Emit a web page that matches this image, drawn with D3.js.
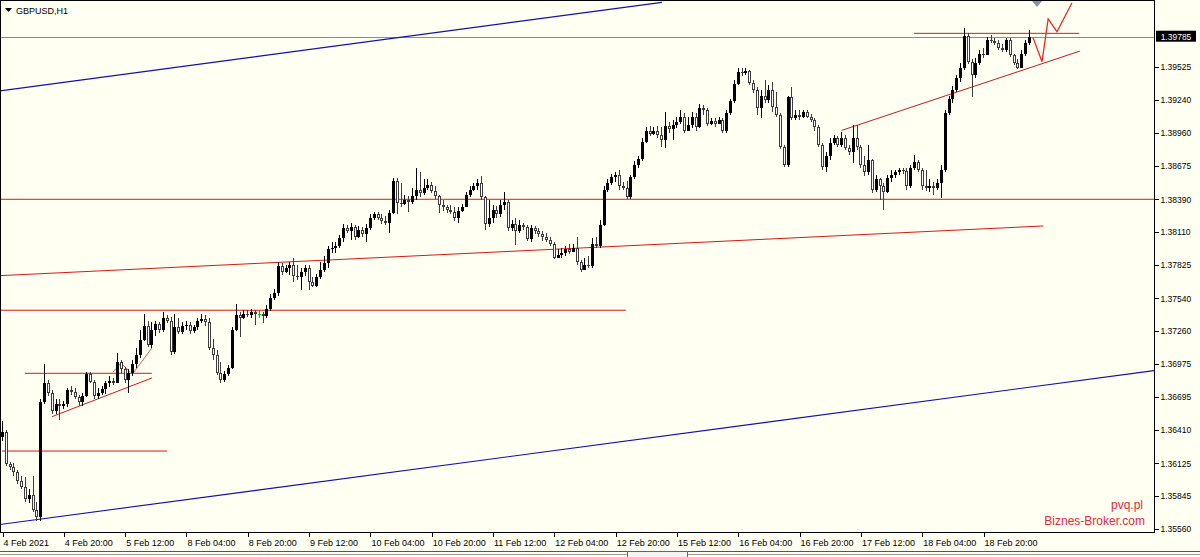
<!DOCTYPE html>
<html><head><meta charset="utf-8">
<script src="https://cdn.jsdelivr.net/npm/d3@7"></script>
<style>body{margin:0;background:#fffff2;} svg{display:block;}</style>
</head><body><svg id="c" width="1200" height="557"></svg>
<script>
const symbol = "GBPUSD,H1";
const opens = [
1.3635,1.3639,1.3612,1.3609,1.3605,1.3597,1.3592,1.3582,1.3585,1.3572,
1.3566,1.3665,1.3681,1.3673,1.3657,1.3663,1.3662,1.3663,1.3675,1.3674,
1.3669,1.3665,1.3670,1.3689,1.3682,1.3670,1.3673,1.3676,1.3681,1.3683,
1.3681,1.3699,1.3693,1.3684,1.3690,1.3698,1.3705,1.3718,1.3730,1.3714,
1.3727,1.3732,1.3727,1.3737,1.3735,1.3708,1.3729,1.3725,1.3730,1.3731,
1.3726,1.3729,1.3735,1.3736,1.3734,1.3711,1.3705,1.3690,1.3684,1.3689,
1.3694,1.3727,1.3740,1.3737,1.3741,1.3740,1.3742,1.3741,1.3741,1.3739,
1.3745,1.3754,1.3759,1.3782,1.3777,1.3780,1.3783,1.3773,1.3772,1.3777,
1.3780,1.3768,1.3765,1.3772,1.3778,1.3784,1.3796,1.3797,1.3799,1.3806,
1.3814,1.3812,1.3815,1.3807,1.3813,1.3809,1.3814,1.3823,1.3826,1.3823,
1.3820,1.3819,1.3827,1.3855,1.3836,1.3835,1.3838,1.3837,1.3842,1.3847,
1.3844,1.3849,1.3851,1.3846,1.3842,1.3834,1.3832,1.3830,1.3828,1.3823,
1.3829,1.3832,1.3843,1.3847,1.3850,1.3853,1.3841,1.3818,1.3823,1.3830,
1.3826,1.3834,1.3837,1.3814,1.3818,1.3812,1.3817,1.3815,1.3805,1.3814,
1.3812,1.3809,1.3807,1.3804,1.3801,1.3789,1.3791,1.3793,1.3796,1.3794,
1.3797,1.3785,1.3778,1.3783,1.3782,1.3801,1.3799,1.3817,1.3847,1.3853,
1.3858,1.3860,1.3850,1.3849,1.3841,1.3858,1.3868,1.3874,1.3888,1.3898,
1.3895,1.3898,1.3894,1.3890,1.3902,1.3899,1.3903,1.3905,1.3910,1.3898,
1.3903,1.3910,1.3901,1.3917,1.3916,1.3904,1.3906,1.3904,1.3907,1.3898,
1.3913,1.3923,1.3938,1.3948,1.3947,1.3949,1.3939,1.3933,1.3917,1.3928,
1.3924,1.3933,1.3918,1.3911,1.3884,1.3868,1.3927,1.3909,1.3911,1.3910,
1.3914,1.3910,1.3907,1.3901,1.3886,1.3867,1.3876,1.3887,1.3892,1.3886,
1.3892,1.3883,1.3880,1.3892,1.3884,1.3868,1.3862,1.3873,1.3847,1.3856,
1.3850,1.3845,1.3857,1.3860,1.3862,1.3864,1.3863,1.3850,1.3866,1.3871,
1.3864,1.3850,1.3849,1.3850,1.3849,1.3853,1.3864,1.3913,1.3925,1.3933,
1.3943,1.3952,1.3979,1.3957,1.3946,1.3956,1.3964,1.3963,1.3976,1.3975,
1.3973,1.3969,1.3967,1.3976,1.3963,1.3956,1.3952,1.3964,1.3973];
const highs = [
1.3649,1.3641,1.3614,1.3613,1.3607,1.3602,1.3601,1.3590,1.3602,1.3579,
1.3668,1.3698,1.3684,1.3675,1.3668,1.3668,1.3666,1.3677,1.3679,1.3677,
1.3671,1.3673,1.3691,1.3691,1.3684,1.3677,1.3679,1.3683,1.3687,1.3686,
1.3707,1.3701,1.3695,1.3693,1.3701,1.3711,1.3727,1.3741,1.3735,1.3734,
1.3735,1.3734,1.3742,1.3740,1.3738,1.3741,1.3737,1.3734,1.3735,1.3734,
1.3731,1.3737,1.3741,1.3740,1.3737,1.3719,1.3710,1.3699,1.3692,1.3697,
1.3729,1.3749,1.3742,1.3744,1.3744,1.3745,1.3744,1.3743,1.3742,1.3748,
1.3758,1.3762,1.3785,1.3784,1.3783,1.3785,1.3789,1.3783,1.3780,1.3783,
1.3783,1.3772,1.3775,1.3785,1.3790,1.3799,1.3802,1.3802,1.3808,1.3818,
1.3817,1.3819,1.3817,1.3816,1.3815,1.3818,1.3826,1.3828,1.3828,1.3826,
1.3825,1.3830,1.3857,1.3857,1.3853,1.3843,1.3842,1.3849,1.3866,1.3862,
1.3856,1.3856,1.3854,1.3850,1.3843,1.3838,1.3834,1.3834,1.3832,1.3832,
1.3835,1.3845,1.3850,1.3853,1.3856,1.3859,1.3842,1.3838,1.3834,1.3833,
1.3838,1.3845,1.3838,1.3821,1.3823,1.3821,1.3819,1.3817,1.3817,1.3816,
1.3814,1.3812,1.3810,1.3807,1.3802,1.3796,1.3797,1.3799,1.3801,1.3801,
1.3807,1.3787,1.3789,1.3790,1.3806,1.3807,1.3821,1.3850,1.3856,1.3861,
1.3862,1.3864,1.3854,1.3855,1.3860,1.3872,1.3876,1.3892,1.3901,1.3902,
1.3901,1.3902,1.3901,1.3914,1.3905,1.3907,1.3910,1.3916,1.3913,1.3910,
1.3914,1.3913,1.3921,1.3920,1.3917,1.3909,1.3909,1.3910,1.3909,1.3916,
1.3925,1.3941,1.3952,1.3952,1.3952,1.3950,1.3941,1.3935,1.3933,1.3941,
1.3937,1.3940,1.3931,1.3913,1.3886,1.3928,1.3935,1.3916,1.3916,1.3916,
1.3916,1.3912,1.3909,1.3903,1.3887,1.3880,1.3892,1.3894,1.3893,1.3897,
1.3894,1.3886,1.3903,1.3903,1.3886,1.3876,1.3886,1.3874,1.3860,1.3857,
1.3853,1.3860,1.3864,1.3864,1.3866,1.3866,1.3866,1.3868,1.3877,1.3873,
1.3866,1.3864,1.3856,1.3854,1.3856,1.3868,1.3916,1.3928,1.3936,1.3946,
1.3956,1.3986,1.3982,1.3959,1.3960,1.3967,1.3969,1.3978,1.3980,1.3977,
1.3976,1.3972,1.3977,1.3977,1.3964,1.3959,1.3967,1.3976,1.3984];
const lows = [
1.3632,1.3610,1.3607,1.3602,1.3595,1.3590,1.3579,1.3578,1.3571,1.3563,
1.3563,1.3663,1.3670,1.3655,1.3655,1.3650,1.3659,1.3661,1.3671,1.3668,
1.3662,1.3662,1.3669,1.3681,1.3668,1.3668,1.3671,1.3672,1.3678,1.3680,
1.3681,1.3690,1.3681,1.3673,1.3687,1.3694,1.3703,1.3717,1.3712,1.3711,
1.3722,1.3724,1.3725,1.3733,1.3705,1.3706,1.3723,1.3723,1.3727,1.3723,
1.3724,1.3727,1.3733,1.3730,1.3710,1.3701,1.3688,1.3681,1.3682,1.3687,
1.3693,1.3726,1.3721,1.3736,1.3738,1.3737,1.3731,1.3737,1.3733,1.3737,
1.3743,1.3753,1.3756,1.3774,1.3776,1.3774,1.3768,1.3770,1.3761,1.3773,
1.3761,1.3764,1.3764,1.3771,1.3777,1.3780,1.3793,1.3793,1.3797,1.3802,
1.3810,1.3804,1.3804,1.3806,1.3807,1.3802,1.3813,1.3821,1.3821,1.3818,
1.3817,1.3810,1.3826,1.3826,1.3832,1.3834,1.3828,1.3835,1.3838,1.3841,
1.3843,1.3847,1.3844,1.3839,1.3827,1.3829,1.3827,1.3826,1.3820,1.3819,
1.3828,1.3832,1.3841,1.3846,1.3847,1.3838,1.3813,1.3815,1.3819,1.3823,
1.3824,1.3830,1.3812,1.3812,1.3800,1.3810,1.3813,1.3803,1.3802,1.3809,
1.3807,1.3803,1.3802,1.3799,1.3788,1.3789,1.3789,1.3790,1.3792,1.3794,
1.3783,1.3777,1.3778,1.3780,1.3780,1.3797,1.3797,1.3816,1.3845,1.3851,
1.3854,1.3847,1.3847,1.3839,1.3839,1.3856,1.3866,1.3872,1.3887,1.3893,
1.3894,1.3892,1.3884,1.3883,1.3896,1.3890,1.3900,1.3904,1.3896,1.3898,
1.3900,1.3898,1.3900,1.3911,1.3902,1.3903,1.3901,1.3904,1.3896,1.3896,
1.3911,1.3922,1.3937,1.3945,1.3946,1.3937,1.3930,1.3911,1.3909,1.3922,
1.3922,1.3914,1.3910,1.3882,1.3867,1.3867,1.3907,1.3907,1.3907,1.3909,
1.3909,1.3905,1.3898,1.3884,1.3864,1.3862,1.3873,1.3886,1.3884,1.3884,
1.3881,1.3877,1.3870,1.3881,1.3866,1.3859,1.3860,1.3844,1.3845,1.3838,
1.3830,1.3844,1.3854,1.3857,1.3860,1.3861,1.3847,1.3849,1.3864,1.3862,
1.3847,1.3846,1.3845,1.3843,1.3847,1.3840,1.3862,1.3911,1.3922,1.3931,
1.3940,1.3950,1.3955,1.3927,1.3943,1.3954,1.3960,1.3963,1.3973,1.3971,
1.3967,1.3965,1.3965,1.3961,1.3954,1.3951,1.3952,1.3962,1.3971];
const closes = [
1.3639,1.3612,1.3609,1.3605,1.3597,1.3592,1.3582,1.3585,1.3572,1.3566,
1.3665,1.3681,1.3673,1.3657,1.3663,1.3662,1.3663,1.3675,1.3674,1.3669,
1.3665,1.3670,1.3689,1.3682,1.3670,1.3673,1.3676,1.3681,1.3683,1.3681,
1.3699,1.3693,1.3684,1.3690,1.3698,1.3705,1.3718,1.3730,1.3714,1.3727,
1.3732,1.3727,1.3737,1.3735,1.3708,1.3729,1.3725,1.3730,1.3731,1.3726,
1.3729,1.3735,1.3736,1.3734,1.3711,1.3705,1.3690,1.3684,1.3689,1.3694,
1.3727,1.3740,1.3737,1.3741,1.3740,1.3742,1.3741,1.3741,1.3739,1.3745,
1.3754,1.3759,1.3782,1.3777,1.3780,1.3783,1.3773,1.3772,1.3777,1.3780,
1.3768,1.3765,1.3772,1.3778,1.3784,1.3796,1.3797,1.3799,1.3806,1.3814,
1.3812,1.3815,1.3807,1.3813,1.3809,1.3814,1.3823,1.3826,1.3823,1.3820,
1.3819,1.3827,1.3855,1.3836,1.3835,1.3838,1.3837,1.3842,1.3847,1.3844,
1.3849,1.3851,1.3846,1.3842,1.3834,1.3832,1.3830,1.3828,1.3823,1.3829,
1.3832,1.3843,1.3847,1.3850,1.3853,1.3841,1.3818,1.3823,1.3830,1.3826,
1.3834,1.3837,1.3814,1.3818,1.3812,1.3817,1.3815,1.3805,1.3814,1.3812,
1.3809,1.3807,1.3804,1.3801,1.3789,1.3791,1.3793,1.3796,1.3794,1.3797,
1.3785,1.3778,1.3783,1.3782,1.3801,1.3799,1.3817,1.3847,1.3853,1.3858,
1.3860,1.3850,1.3849,1.3841,1.3858,1.3868,1.3874,1.3888,1.3898,1.3895,
1.3898,1.3894,1.3890,1.3902,1.3899,1.3903,1.3905,1.3910,1.3898,1.3903,
1.3910,1.3901,1.3917,1.3916,1.3904,1.3906,1.3904,1.3907,1.3898,1.3913,
1.3923,1.3938,1.3948,1.3947,1.3949,1.3939,1.3933,1.3917,1.3928,1.3924,
1.3933,1.3918,1.3911,1.3884,1.3868,1.3927,1.3909,1.3911,1.3910,1.3914,
1.3910,1.3907,1.3901,1.3886,1.3867,1.3876,1.3887,1.3892,1.3886,1.3892,
1.3883,1.3880,1.3892,1.3884,1.3868,1.3862,1.3873,1.3847,1.3856,1.3850,
1.3845,1.3857,1.3860,1.3862,1.3864,1.3863,1.3850,1.3866,1.3871,1.3864,
1.3850,1.3849,1.3850,1.3849,1.3853,1.3864,1.3913,1.3925,1.3933,1.3943,
1.3952,1.3979,1.3957,1.3946,1.3956,1.3964,1.3963,1.3976,1.3975,1.3973,
1.3969,1.3967,1.3976,1.3963,1.3956,1.3952,1.3964,1.3973,1.39785];

const timeTickBars = [0,16,32,48,64,80,96,112,128,144,160,176,192,208,224,240,256];
const timeTickLabels = ["4 Feb 2021","4 Feb 20:00","5 Feb 12:00","8 Feb 04:00","8 Feb 20:00","9 Feb 12:00","10 Feb 04:00","10 Feb 20:00","11 Feb 12:00","12 Feb 04:00","12 Feb 20:00","15 Feb 12:00","16 Feb 04:00","16 Feb 20:00","17 Feb 12:00","18 Feb 04:00","18 Feb 20:00"];
const priceTicks = [1.39525,1.39240,1.38960,1.38675,1.38390,1.38110,1.37825,1.37540,1.37260,1.36975,1.36695,1.36410,1.36125,1.35845,1.35560];
const lastPrice = 1.39785;

// analysis objects: [bar, price] vertices
const blueLines = [
  [[-0.52,1.3932],[172.2,1.4008]],
  [[-0.52,1.3560],[300.6,1.3692]]
];
const redLines = [
  [[-0.52,1.3839],[300.6,1.3839]],
  [[-0.52,1.37735],[271.7,1.38161]],
  [[-0.52,1.37438],[162.8,1.37438]],
  [[0,1.3623],[43.1,1.3623]],
  [[6,1.36897],[39.1,1.36897]],
  [[13.05,1.36525],[39.1,1.36857]],
  [[219.1,1.38981],[281.3,1.39662]],
  [[238,1.39814],[281.1,1.39814]]
];
const forecastPath = [[269.05,1.39777],[271.4,1.39571],[273.0,1.39937],[275.3,1.39828],[279.2,1.40074]];
const sketchPaths = [
  [[28.97,1.36908],[31.05,1.36985],[33.4,1.36908]],
  [[34.45,1.36908],[39.1,1.37114]]
];
const shiftBar = 270.1;
const watermark = ["pvq.pl","Biznes-Broker.com"];

const BG = "#fffff2";
const svg = d3.select("#c");
svg.append("rect").attr("width",1200).attr("height",557).attr("fill",BG);

const plotR = 1154, plotB = 532.5;
const x = d3.scaleLinear().domain([0,256]).range([2,983]);
const y = d3.scaleLinear().domain([1.35531,1.40100]).range([plotB,0]);

svg.append("clipPath").attr("id","clip").append("rect")
  .attr("x",0).attr("y",0).attr("width",plotR).attr("height",plotB);
const g = svg.append("g").attr("clip-path","url(#clip)");

const line = d3.line().x(d=>x(d[0])).y(d=>y(d[1]));

// title
svg.append("path").attr("d","M5,8 L12,8 L8.5,12 Z").attr("fill","#000");
svg.append("text").attr("x",16).attr("y",13.5).text(symbol)
  .attr("font-family","Liberation Sans, Arial, sans-serif").attr("font-size",9).attr("fill","#000");

// current price line
g.append("line").attr("x1",0).attr("x2",plotR).attr("y1",Math.round(y(lastPrice))+0.5).attr("y2",Math.round(y(lastPrice))+0.5)
  .attr("stroke","#8c8c8c").attr("stroke-width",1);

// trend lines
blueLines.forEach(l=>g.append("path").attr("d",line(l)).attr("fill","none").attr("stroke","#1010b0").attr("stroke-width",1.1));
redLines.forEach(l=>g.append("path").attr("d",line(l)).attr("fill","none").attr("stroke","#d81818").attr("stroke-width",1));
sketchPaths.forEach(l=>g.append("path").attr("d",line(l)).attr("fill","none").attr("stroke","#e85060").attr("stroke-width",1));
g.append("path").attr("d",line(forecastPath)).attr("fill","none").attr("stroke","#e82828").attr("stroke-width",1.3);

// candles
const cg = g.append("g").attr("shape-rendering","crispEdges");
closes.forEach((c,i)=>{
  const o = opens[i], hi = Math.max(highs[i],o,c), lo = Math.min(lows[i],o,c);
  const cx = Math.round(x(i));
  const doji = o === c;
  const bear = c < o;
  const col = doji ? "#00c800" : (bear ? "#3c3c3c" : "#000");
  cg.append("line").attr("x1",cx+0.5).attr("x2",cx+0.5).attr("y1",y(hi)).attr("y2",y(lo)).attr("stroke",col).attr("stroke-width",1);
  const top = Math.round(y(Math.max(o,c))), bot = Math.round(y(Math.min(o,c)));
  const h = Math.max(1, bot-top);
  if (doji) {
    cg.append("rect").attr("x",cx-1).attr("y",top).attr("width",3).attr("height",1).attr("fill",col);
  } else {
    cg.append("rect").attr("x",cx-1).attr("y",top).attr("width",3).attr("height",h).attr("fill",col);
    if (bear && h > 2) cg.append("rect").attr("x",cx).attr("y",top+1).attr("width",1).attr("height",h-2).attr("fill","#fff");
  }
});

// shift marker
const sx = x(shiftBar);
svg.append("path").attr("d",`M${sx-5},1 L${sx+5},1 L${sx},7 Z`).attr("fill","#8a94a4");

// watermark
svg.append("text").attr("x",1143).attr("y",509).attr("text-anchor","end").text(watermark[0])
  .attr("font-family","Liberation Sans, Arial, sans-serif").attr("font-size",12).attr("fill","#e02a3c");
svg.append("text").attr("x",1145).attr("y",525).attr("text-anchor","end").text(watermark[1])
  .attr("font-family","Liberation Sans, Arial, sans-serif").attr("font-size",12).attr("fill","#e02a3c");

// frame
svg.append("rect").attr("x",0.5).attr("y",0.5).attr("width",plotR).attr("height",plotB-0.5)
  .attr("fill","none").attr("stroke","#000").attr("stroke-width",1).attr("shape-rendering","crispEdges");

// price axis
const ya = svg.append("g").attr("transform",`translate(${plotR+0.5},0)`)
  .call(d3.axisRight(y).tickValues(priceTicks).tickFormat(d3.format(".5f")).tickSize(4).tickPadding(2));
ya.select(".domain").remove();
ya.selectAll("line").attr("stroke","#000").attr("shape-rendering","crispEdges");
ya.selectAll("text").attr("font-family","Liberation Sans, Arial, sans-serif").attr("font-size",8.5).attr("fill","#000");

// last price label
const ly = y(lastPrice);
svg.append("rect").attr("x",1156).attr("y",ly-6).attr("width",40).attr("height",11).attr("fill","#000");
svg.append("text").attr("x",1176).attr("y",ly+3).attr("text-anchor","middle").text(d3.format(".5f")(lastPrice))
  .attr("font-family","Liberation Sans, Arial, sans-serif").attr("font-size",8.5).attr("fill","#fff");

// time axis
const xa = svg.append("g").attr("transform",`translate(0,${plotB})`)
  .call(d3.axisBottom(x).tickValues(timeTickBars).tickFormat((d,k)=>timeTickLabels[k]).tickSize(4).tickPadding(3));
xa.select(".domain").remove();
xa.selectAll(".tick line").attr("stroke","#000").attr("transform","translate(0.5,0)").attr("shape-rendering","crispEdges");
xa.selectAll("text").attr("text-anchor","start").attr("x",1)
  .attr("font-family","Liberation Sans, Arial, sans-serif").attr("font-size",9).attr("fill","#000");

// bottom tab bar
svg.append("line").attr("x1",0).attr("x2",1200).attr("y1",551.5).attr("y2",551.5).attr("stroke","#555").attr("stroke-width",1);
svg.append("line").attr("x1",0).attr("x2",1200).attr("y1",554.5).attr("y2",554.5).attr("stroke","#999").attr("stroke-width",1);
svg.append("rect").attr("x",627.5).attr("y",551.5).attr("width",60).attr("height",6).attr("fill","#f4f4f4").attr("stroke","#666");
</script></body></html>
